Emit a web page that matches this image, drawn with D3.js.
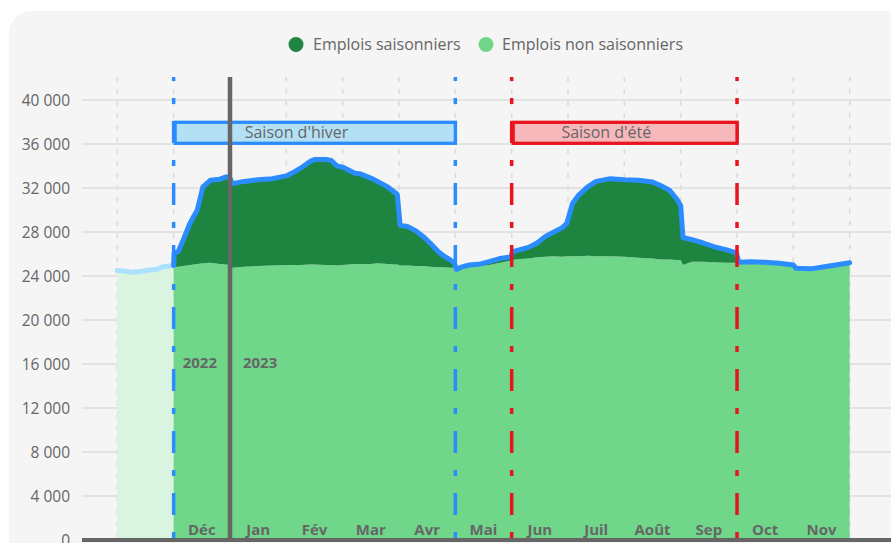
<!DOCTYPE html>
<html><head><meta charset="utf-8">
<script src="https://cdn.jsdelivr.net/npm/d3@7"></script>
<style>
html,body{margin:0;padding:0;background:#fff;}
svg{display:block;font-family:"Open Sans",sans-serif;}
</style></head>
<body>
<svg id="chart" width="891" height="543"></svg>
<script>
// ---- DATA ----
// position in months since 1 Nov 2022
const monthPos = [0.00,0.12,0.25,0.40,0.55,0.70,0.82,1.00,
  1.01,1.08,1.17,1.29,1.42,1.52,1.65,1.82,1.92,1.99,
  2.04,2.25,2.50,2.75,3.00,3.12,3.25,3.42,3.50,3.70,3.80,3.90,
  4.00,4.12,4.22,4.30,4.50,4.62,4.80,4.93,4.97,5.02,5.15,5.30,5.45,5.55,5.70,5.80,5.90,5.98,
  6.02,6.10,6.25,6.45,6.60,6.80,6.99,7.01,7.15,7.30,7.45,7.60,7.75,7.90,7.98,
  8.08,8.18,8.35,8.50,8.75,9.00,9.25,9.50,9.65,9.80,9.93,10.00,10.04,
  10.20,10.40,10.60,10.80,10.99,11.03,11.25,11.50,11.75,12.00,12.05,12.30,12.50,12.75,13.00];
const nonSeasonal = [24500,24450,24350,24400,24550,24600,24850,24950,
  24800,24850,24900,25000,25100,25150,25200,25100,25050,25000,
  24750,24850,24900,24950,25000,25000,25000,25050,25050,25000,25000,24950,
  25000,25050,25100,25100,25100,25150,25100,25050,25050,24950,24950,24900,24900,24850,24800,24800,24750,24750,
  24500,24650,24800,24900,25000,25200,25400,25450,25550,25600,25700,25750,25800,25750,25800,
  25800,25800,25850,25800,25800,25750,25650,25600,25500,25500,25450,25450,25000,
  25300,25300,25250,25200,25200,25250,25300,25250,25150,25000,24700,24650,24800,25000,25200];
const seasonal = [0,0,0,0,0,0,0,0,
  1300,1350,2370,3800,4900,6950,7500,7700,7950,8000,
  7650,7750,7850,7900,8100,8400,8800,9350,9550,9600,9500,9050,
  8900,8550,8250,8200,7800,7450,7000,6550,6350,3650,3550,3200,2600,2150,1400,1000,750,450,
  100,150,200,200,300,400,350,750,850,1000,1300,1850,2200,2650,3000,
  4800,5500,6250,6800,7050,7000,7050,6950,6700,6300,5550,4950,2500,
  2000,1700,1400,1200,900,0,0,0,0,0,0,0,0,0,0];
const monthLabels = ["Déc","Jan","Fév","Mar","Avr","Mai","Jun","Juil","Août","Sep","Oct","Nov"];
const yTicks = [0,4000,8000,12000,16000,20000,24000,28000,32000,36000,40000];
const seriesNames = ["Emplois saisonniers","Emplois non saisonniers"];
const seasons = [
  {name:"Saison d'hiver", start:1, end:6},
  {name:"Saison d'été", start:7, end:11}
];
const yearLabels = ["2022","2023"];
const yearBoundary = 2;
const historyEnd = 1;

// ---- STYLES ----
const C = {
  panel:"#f5f5f5", grid:"#e3e3e3", vgrid:"#dcdcdc", text:"#666666",
  dark:"#1e8540", light:"#6fd68a", pale:"#d9f5e1",
  blue:"#2b8cff", paleBlue:"#ace0ff", red:"#e8141e",
  winterFill:"#b3e0f5", summerFill:"#f6b8bb", axis:"#666666"
};

const svg = d3.select("#chart");
const x = d3.scaleLinear().domain([0,13]).range([117.3,849.7]);
const y = d3.scaleLinear().domain([0,40000]).range([540,100]);
const fmt = d3.formatLocale({decimal:",",thousands:"\u00a0",grouping:[3],currency:["","€"]}).format(",d");

const data = monthPos.map((t,i)=>({t, ns:nonSeasonal[i], s:seasonal[i]}));
const hist = data.filter(d=>d.t<=historyEnd);
const mainStart = data.findIndex(d=>d.t===historyEnd);
const mainData = data.slice(mainStart);

// panel
svg.append("rect").attr("x",9).attr("y",11).attr("width",900).attr("height",560).attr("rx",22).attr("fill",C.panel);

// horizontal grid
svg.append("g").selectAll("line").data(yTicks.filter(v=>v>0)).join("line")
  .attr("x1",82).attr("x2",891).attr("y1",d=>y(d)).attr("y2",d=>y(d))
  .attr("stroke",C.grid).attr("stroke-width",2);

// vertical dashed grid
svg.append("g").selectAll("line").data(d3.range(0,14)).join("line")
  .attr("x1",d=>x(d)).attr("x2",d=>x(d)).attr("y1",77).attr("y2",540)
  .attr("stroke",C.vgrid).attr("stroke-width",1.6).attr("stroke-dasharray","5,7");

// areas
const areaNS = d3.area().x(d=>x(d.t)).y0(y(0)).y1(d=>y(d.ns));
const areaS = d3.area().x(d=>x(d.t)).y0(d=>y(d.ns)).y1(d=>y(d.ns+d.s));
const lineTot = d3.line().x(d=>x(d.t)).y(d=>y(d.ns+d.s));

svg.append("path").datum(hist).attr("d",areaNS).attr("fill",C.pale);
svg.append("path").datum(mainData).attr("d",areaNS).attr("fill",C.light);
svg.append("path").datum(mainData).attr("d",areaS).attr("fill",C.dark);
svg.append("path").datum(hist).attr("d",lineTot).attr("fill","none")
  .attr("stroke",C.paleBlue).attr("stroke-width",5).attr("stroke-linejoin","round").attr("stroke-linecap","round");
svg.append("path").datum(mainData).attr("d",lineTot).attr("fill","none")
  .attr("stroke",C.blue).attr("stroke-width",5).attr("stroke-linejoin","round").attr("stroke-linecap","round");

// season dashed lines
seasons.forEach((s,i)=>{
  const col = i===0?C.blue:C.red;
  [s.start,s.end].forEach(t=>{
    svg.append("line").attr("x1",x(t)).attr("x2",x(t)).attr("y1",538).attr("y2",77)
      .attr("stroke",col).attr("stroke-width",3.5).attr("stroke-dasharray","6,17,22,17");
  });
});

// season boxes
seasons.forEach((s,i)=>{
  const col = i===0?C.blue:C.red;
  const fill = i===0?C.winterFill:C.summerFill;
  svg.append("rect").attr("x",x(s.start)+1.5).attr("y",122.3)
    .attr("width",x(s.end)-x(s.start)-1.5).attr("height",21)
    .attr("fill",fill).attr("stroke",col).attr("stroke-width",3.3);
  svg.append("text").attr("x",(x(s.start)+x(s.end))/2-18).attr("y",138)
    .attr("text-anchor","middle").attr("font-size",16).attr("fill",C.text).text(s.name);
});

// year line
svg.append("line").attr("x1",x(yearBoundary)).attr("x2",x(yearBoundary)).attr("y1",77).attr("y2",540)
  .attr("stroke","#666").attr("stroke-width",4.5);
svg.append("text").attr("x",x(yearBoundary)-13).attr("y",368).attr("text-anchor","end")
  .attr("font-size",15).attr("font-weight","bold").attr("fill",C.text).text(yearLabels[0]);
svg.append("text").attr("x",x(yearBoundary)+13).attr("y",368).attr("text-anchor","start")
  .attr("font-size",15).attr("font-weight","bold").attr("fill",C.text).text(yearLabels[1]);

// month labels
svg.append("g").selectAll("text").data(monthLabels).join("text")
  .attr("x",(d,i)=>x(i+1.5)).attr("y",535).attr("text-anchor","middle")
  .attr("font-size",15).attr("font-weight","bold").attr("fill",C.text).text(d=>d);

// x axis line
svg.append("line").attr("x1",82).attr("x2",891).attr("y1",540).attr("y2",540)
  .attr("stroke",C.axis).attr("stroke-width",4);

// y labels
svg.append("g").selectAll("text").data(yTicks).join("text")
  .attr("x",70).attr("y",d=>y(d)).attr("dy","0.36em").attr("text-anchor","end")
  .attr("font-size",15.5).attr("fill",C.text).text(d=>fmt(d));

// legend
const leg = [{n:seriesNames[0],c:C.dark,cx:296,tx:313},{n:seriesNames[1],c:C.light,cx:486,tx:502}];
leg.forEach(l=>{
  svg.append("circle").attr("cx",l.cx).attr("cy",44.5).attr("r",7.5).attr("fill",l.c);
  svg.append("text").attr("x",l.tx).attr("y",44.5).attr("dy","0.36em").attr("font-size",16).attr("fill",C.text).text(l.n);
});
</script>
</body></html>
